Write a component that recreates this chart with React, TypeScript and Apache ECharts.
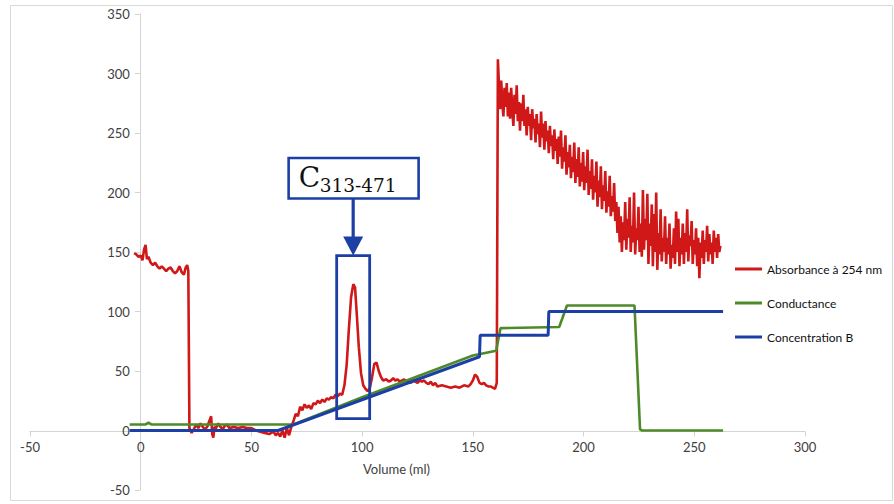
import React, { useEffect, useRef } from "react";
import * as echarts from "echarts";

const xTicks = { min: -50, max: 300, interval: 50 };
const yTicks = { min: -50, max: 350, interval: 50 };
const seriesNames = ["Absorbance à 254 nm", "Conductance", "Concentration B"];
const xAxisTitle = "Volume (ml)";
const calloutMain = "C";
const calloutSub = "313-471";

// Absorbance at 254 nm (volume ml, mAU)
const absorbance: [number, number][] = [
  [-3, 149], [-2, 148], [-1, 146], [0, 147], [0.8, 143], [1.5, 152], [2.2, 156], [2.8, 144], [3.5, 146],
  [4.5, 141], [5.5, 139], [6.5, 141], [7.5, 138], [8.5, 136], [9.5, 138], [10.5, 136], [11.5, 134],
  [12.5, 136], [13.5, 137], [14.5, 134], [15.5, 132], [16.5, 134], [17.5, 138], [18.5, 133], [19.5, 131],
  [20.3, 137], [21, 139], [21.5, 134], [22, 2], [23, -2], [24, 1], [25, 5], [26, 2], [27, 6], [28, 3],
  [29, 1], [30, 3], [31, 8], [31.8, 12], [32.3, -3], [32.8, -6], [33.3, 3], [34, 2], [35, 6], [36, 3],
  [37, 1], [38, 4], [39, 5], [40, 2], [42, 3], [44, 2], [46, 3], [48, 2], [50, 2], [52, 0], [54, -1],
  [56, -2], [58, -3], [60, -1], [61, -4], [62, -2], [63, -5], [64, 0], [65, -6], [66, 2], [67, -4],
  [68, 3], [69, 8], [70, 14], [71, 12], [72, 20], [73, 17], [74, 22], [75, 19], [76, 21], [77, 18],
  [78, 23], [79, 22], [80, 25], [81, 23], [82, 26], [83, 24], [84, 27], [85, 26], [86, 28], [87, 27],
  [88, 30], [89, 29], [90, 31], [91, 30], [92, 38], [93, 55], [94, 85], [95, 112], [96, 123], [96.8, 120],
  [97.5, 100], [98.5, 70], [99.5, 48], [100.5, 38], [101.5, 35], [102.5, 33], [103.5, 36], [104.5, 45],
  [105.5, 56], [106.5, 57], [107.5, 50], [108.5, 45], [109.5, 42], [111, 43], [112, 41], [113, 42],
  [114, 44], [115, 42], [116, 43], [117, 41], [118, 42], [119, 43], [120, 41], [121, 42], [122, 40],
  [123, 42], [124, 41], [125, 40], [126, 42], [127, 41], [128, 42], [129, 40], [130, 39], [131, 41],
  [132, 38], [133, 40], [134, 37], [136, 38], [138, 37], [140, 36], [142, 37], [144, 36], [146, 38],
  [148, 37], [149, 39], [150, 42], [151, 47], [152, 45], [153, 40], [154, 39], [155, 40], [156, 38],
  [157, 37], [158, 37], [159, 36], [160, 35], [160.8, 40], [161.3, 312],
  [161.8, 290], [162.3, 270], [162.8, 294], [163.3, 276], [163.8, 264], [164.3, 288], [164.8, 272],
  [165.3, 292], [165.8, 264], [166.3, 284], [166.8, 262], [167.3, 288], [167.8, 270], [168.3, 256],
  [168.8, 282], [169.3, 266], [169.8, 290], [170.3, 260], [170.8, 276], [171.3, 252], [171.8, 275],
  [172.3, 260], [172.8, 282], [173.3, 256], [173.8, 270], [174.3, 248], [174.8, 272], [175.3, 256],
  [175.8, 266], [176.3, 244], [176.8, 270], [177.3, 254], [177.8, 262], [178.3, 242], [178.8, 266],
  [179.3, 249], [179.8, 258], [180.3, 238], [180.8, 268], [181.3, 246], [181.8, 258], [182.3, 236],
  [182.8, 260], [183.3, 243], [183.8, 252], [184.3, 233], [184.8, 256], [185.3, 239], [185.8, 248],
  [186.3, 228], [186.8, 253], [187.3, 235], [187.8, 245], [188.3, 224], [188.8, 247], [189.3, 230],
  [189.8, 252], [190.3, 220], [190.8, 238], [191.3, 226], [191.8, 248], [192.3, 215], [192.8, 234],
  [193.3, 221], [193.8, 240], [194.3, 212], [194.8, 230], [195.3, 217], [195.8, 242], [196.3, 208],
  [196.8, 228], [197.3, 213], [197.8, 238], [198.3, 205], [198.8, 225], [199.3, 209], [199.8, 234],
  [200.3, 202], [200.8, 222], [201.3, 208], [201.8, 236], [202.3, 198], [202.8, 218], [203.3, 203],
  [203.8, 228], [204.3, 194], [204.8, 214], [205.3, 200], [205.8, 226], [206.3, 188], [206.8, 210],
  [207.3, 196], [207.8, 222], [208.3, 186], [208.8, 206], [209.3, 193], [209.8, 218], [210.3, 183],
  [210.8, 201], [211.3, 188], [211.8, 214], [212.3, 180], [212.8, 197], [213.3, 184], [213.8, 208],
  [214.3, 176], [214.8, 192], [215.3, 166], [215.8, 188], [216.3, 158], [216.8, 180], [217.3, 150],
  [217.8, 175], [218.3, 160], [218.8, 192], [219.3, 152], [219.8, 178], [220.3, 162], [220.8, 196],
  [221.3, 150], [221.8, 172], [222.3, 158], [222.8, 200], [223.3, 148], [223.8, 170], [224.3, 160],
  [224.8, 188], [225.3, 150], [225.8, 174], [226.3, 146], [226.8, 202], [227.3, 152], [227.8, 178],
  [228.3, 160], [228.8, 199], [229.3, 140], [229.8, 174], [230.3, 155], [230.8, 190], [231.3, 138],
  [231.8, 182], [232.3, 150], [232.8, 200], [233.3, 135], [233.8, 166], [234.3, 148], [234.8, 186],
  [235.3, 142], [235.8, 162], [236.3, 150], [236.8, 180], [237.3, 140], [237.8, 162], [238.3, 148],
  [238.8, 174], [239.3, 136], [239.8, 156], [240.3, 145], [240.8, 170], [241.3, 140], [241.8, 184],
  [242.3, 150], [242.8, 178], [243.3, 138], [243.8, 162], [244.3, 148], [244.8, 174], [245.3, 140],
  [245.8, 166], [246.3, 150], [246.8, 186], [247.3, 142], [247.8, 164], [248.3, 155], [248.8, 176],
  [249.3, 140], [249.8, 160], [250.3, 148], [250.8, 170], [251.3, 138], [251.8, 162], [252.3, 128],
  [252.8, 158], [253.3, 145], [253.8, 168], [254.3, 140], [254.8, 160], [255.3, 150], [255.8, 172],
  [256.3, 142], [256.8, 165], [257.3, 148], [257.8, 158], [258.3, 140], [258.8, 168], [259.3, 150],
  [259.8, 162], [260.3, 145], [260.8, 165], [261.3, 150], [261.8, 155],
];

// Conductance
const conductance: [number, number][] = [
  [-5, 5], [2, 5], [3.5, 6.5], [5, 5], [69, 5], [100, 28], [150, 63], [160.5, 67], [162.5, 86],
  [189, 87], [192.5, 105], [223, 105], [225.5, 1], [226.5, 0], [263, 0],
];

// Concentration B (%)
const concentrationB: [number, number][] = [
  [-5, 0], [62, 0], [153, 62], [153.3, 80], [184, 80], [184.3, 100], [263, 100],
];

// Annotation anchors (data coordinates)
const calloutBox = { x1: 66.8, y1: 229, x2: 125.5, y2: 195 };
const peakBox = { x1: 88.5, y1: 147, x2: 103.4, y2: 10 };

const RED = "#d01818";
const GREEN = "#4e8a28";
const BLUE = "#1c3fa6";
const FONT = "Lato";

export default function App() {
  const ref = useRef<HTMLDivElement>(null);
  useEffect(() => {
    if (!ref.current) return;
    const chart = echarts.init(ref.current, undefined, { renderer: "svg" });
    const axisCommon = {
      type: "value" as const,
      axisLine: { show: true, onZero: false, lineStyle: { color: "#d4d4d4", width: 1 } },
      axisTick: { show: true, length: 5, lineStyle: { color: "#d4d4d4" } },
      splitLine: { show: false },
    };
    chart.setOption({
      animation: false,
      backgroundColor: "#ffffff",
      grid: { left: 30, right: 89, top: 14, bottom: 14, containLabel: false },
      xAxis: {
        ...axisCommon,
        position: "bottom",
        min: xTicks.min,
        max: xTicks.max,
        interval: xTicks.interval,
        axisLabel: { color: "#404040", fontFamily: FONT, fontSize: 13, margin: 9 },
      },
      yAxis: {
        ...axisCommon,
        position: "left",
        min: yTicks.min,
        max: yTicks.max,
        interval: yTicks.interval,
        axisLabel: { color: "#404040", fontFamily: FONT, fontSize: 13, margin: 10 },
      },
      legend: {
        orient: "vertical",
        left: 730,
        top: 258,
        itemWidth: 27,
        itemHeight: 3,
        itemGap: 22,
        icon: "rect",
        textStyle: { color: "#111", fontFamily: FONT, fontSize: 12 },
        data: seriesNames,
      },
      series: [
        {
          name: seriesNames[0], type: "line", data: absorbance, showSymbol: false, symbol: "none",
          lineStyle: { color: RED, width: 2.6 }, itemStyle: { color: RED }, z: 2,
        },
        {
          name: seriesNames[1], type: "line", data: conductance, showSymbol: false, symbol: "none",
          lineStyle: { color: GREEN, width: 2.6 }, itemStyle: { color: GREEN }, z: 3,
        },
        {
          name: seriesNames[2], type: "line", data: concentrationB, showSymbol: false, symbol: "none",
          lineStyle: { color: BLUE, width: 3 }, itemStyle: { color: BLUE }, z: 4,
        },
      ],
    });

    const p = (x: number, y: number) => chart.convertToPixel({ gridIndex: 0 }, [x, y]) as number[];
    const zero = p(0, 0);
    const bottomLeft = p(xTicks.min, yTicks.min);
    // Cross the axes at the origin, as the source chart does
    chart.setOption({
      xAxis: { offset: -(bottomLeft[1] - zero[1]) },
      yAxis: { offset: -(zero[0] - bottomLeft[0]) },
    });

    const cb1 = p(calloutBox.x1, calloutBox.y1);
    const cb2 = p(calloutBox.x2, calloutBox.y2);
    const pb1 = p(peakBox.x1, peakBox.y1);
    const pb2 = p(peakBox.x2, peakBox.y2);
    const cx = (pb1[0] + pb2[0]) / 2;
    const tipY = pb1[1];
    const titlePos = p(115.5, 0);

    chart.setOption({
      graphic: [
        {
          type: "rect", shape: { x: 10.5, y: 5.5, width: 882, height: 495 },
          style: { fill: "none", stroke: "#d9d9d9", lineWidth: 1 }, z: 0, silent: true,
        },
        {
          type: "rect",
          shape: { x: pb1[0], y: pb1[1], width: pb2[0] - pb1[0], height: pb2[1] - pb1[1] },
          style: { fill: "none", stroke: BLUE, lineWidth: 2.8 }, z: 100,
        },
        {
          type: "line",
          shape: { x1: cx, y1: cb2[1], x2: cx, y2: tipY - 14 },
          style: { stroke: BLUE, lineWidth: 3.2 }, z: 100,
        },
        {
          type: "polygon",
          shape: { points: [[cx - 10, tipY - 19], [cx + 10, tipY - 19], [cx, tipY]] },
          style: { fill: BLUE }, z: 100,
        },
        {
          type: "rect",
          shape: { x: cb1[0], y: cb1[1], width: cb2[0] - cb1[0], height: cb2[1] - cb1[1] },
          style: { fill: "#ffffff", stroke: BLUE, lineWidth: 2.6 }, z: 100,
        },
        {
          type: "text", x: cb1[0] + 10, y: (cb1[1] + cb2[1]) / 2 - 1, z: 101,
          style: {
            text: calloutMain, fontFamily: "DejaVu Serif", fontSize: 28, fill: "#111",
            verticalAlign: "middle", align: "left",
          },
        },
        {
          type: "text", x: cb1[0] + 31, y: (cb1[1] + cb2[1]) / 2 + 7, z: 101,
          style: {
            text: calloutSub, fontFamily: "DejaVu Serif", fontSize: 18.5, fill: "#111",
            verticalAlign: "middle", align: "left",
          },
        },
        {
          type: "text", x: titlePos[0], y: zero[1] + 45, z: 10,
          style: {
            text: xAxisTitle, fontFamily: FONT, fontSize: 13, fill: "#404040",
            align: "center", verticalAlign: "middle",
          },
        },
      ],
    });
    return () => chart.dispose();
  }, []);
  return (
    <div
      ref={ref}
      style={{ position: "absolute", left: 0, top: 0, width: 894, height: 504 }}
    />
  );
}
